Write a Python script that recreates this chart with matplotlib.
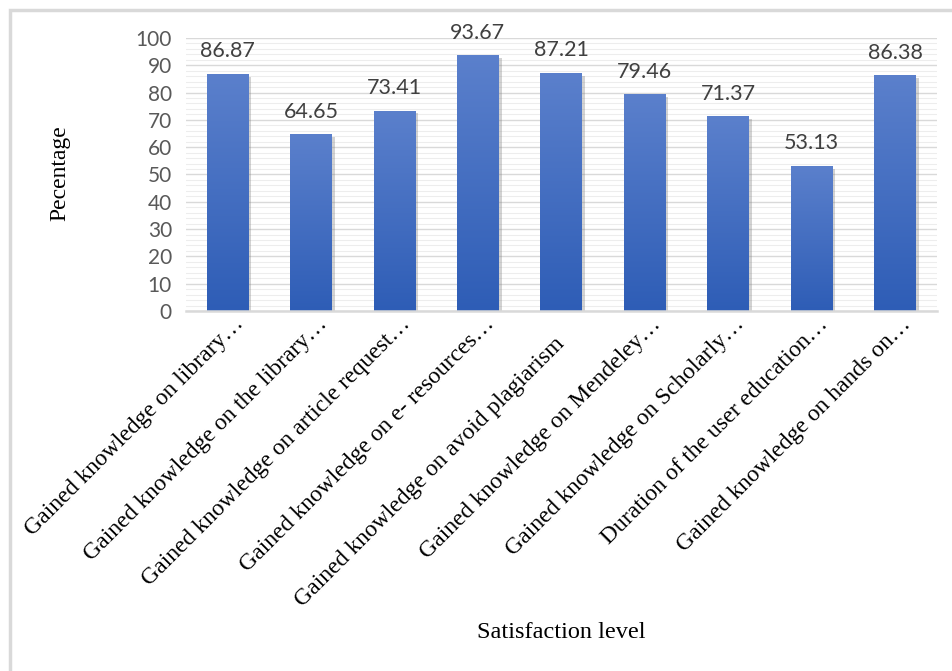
import matplotlib.pyplot as plt
import matplotlib.patheffects as pe
import matplotlib.transforms as mtransforms
from matplotlib.patches import Rectangle
from matplotlib.colors import LinearSegmentedColormap
import numpy as np

categories = [
    'Gained knowledge on library\u2026',
    'Gained knowledge on the library\u2026',
    'Gained knowledge on article request\u2026',
    'Gained knowledge on e- resources\u2026',
    'Gained knowledge on avoid plagiarism',
    'Gained knowledge on Mendeley\u2026',
    'Gained knowledge on Scholarly\u2026',
    'Duration of the user education\u2026',
    'Gained knowledge on hands on\u2026',
]
values = [86.87, 64.65, 73.41, 93.67, 87.21, 79.46, 71.37, 53.13, 86.38]
value_labels = ['86.87', '64.65', '73.41', '93.67', '87.21', '79.46', '71.37', '53.13', '86.38']
y_ticks = [0, 10, 20, 30, 40, 50, 60, 70, 80, 90, 100]

fig = plt.figure(figsize=(9.53, 6.71), dpi=100)
ax = fig.add_axes([0.195, 0.5365, 0.788, 0.407])

# light frame on top and left like the cropped Excel chart area
fig.patches.append(Rectangle((10 / 953, -0.1), 1.2, 1.1 - 10 / 671,
                             transform=fig.transFigure, fill=False,
                             edgecolor='#d9d9d9', linewidth=2.5))

x = np.arange(len(categories))
bars = ax.bar(x, values, width=0.5, color='#3f68c0', zorder=3,
              path_effects=[pe.SimplePatchShadow(offset=(2, -2), shadow_rgbFace='#808080', alpha=0.35),
                            pe.Normal()])

# vertical gradient on each bar: lighter at top, darker at bottom
cmap = LinearSegmentedColormap.from_list('bar', ['#2e5db6', '#5b80cc'])
grad = np.linspace(0, 1, 256).reshape(-1, 1)
for b in bars:
    x0, w, h = b.get_x(), b.get_width(), b.get_height()
    im = ax.imshow(grad, extent=[x0, x0 + w, 0, h], origin='lower', aspect='auto',
                   cmap=cmap, zorder=4)
    im.set_clip_path(b)

for xi, v, lab in zip(x, values, value_labels):
    ax.annotate(lab, (xi, v), xytext=(0, 9), textcoords='offset points',
                ha='center', va='bottom', fontsize=15.5, family='Lato', color='#404040',
                annotation_clip=False)

ax.set_xlim(-0.5, len(categories) - 0.5)
ax.set_ylim(0, 100)
ax.set_yticks(y_ticks)
ax.set_yticks(np.arange(0, 101, 2), minor=True)
ax.grid(axis='y', which='major', color='#d9d9d9', linewidth=1.0, zorder=0)
ax.grid(axis='y', which='minor', color='#ededed', linewidth=0.8, zorder=0)
ax.tick_params(axis='y', which='both', length=0, labelsize=15, labelcolor='#595959', pad=10)
for t in ax.get_yticklabels():
    t.set_family('Lato')

# category labels drawn as rotated texts under each bar
# (truncated labels with an ellipsis overhang a bit further, as in Excel)
ax.set_xticks(x)
ax.set_xticklabels([])
ax.tick_params(axis='x', length=0)
for xi, lab in zip(x, categories):
    if lab.endswith('\u2026'):
        dx, dy = 13, -10
    else:
        dx, dy = 0, -30
    offset = mtransforms.ScaledTranslation(dx / 100, dy / 100, fig.dpi_scale_trans)
    ax.text(xi, 0, lab, transform=ax.get_xaxis_transform() + offset,
            rotation=45, ha='right', va='center', rotation_mode='anchor',
            fontsize=17, family='Liberation Serif', color='black')

for s in ['top', 'right', 'left']:
    ax.spines[s].set_visible(False)
ax.spines['bottom'].set_color('#d9d9d9')
ax.spines['bottom'].set_linewidth(1.8)
ax.spines['bottom'].set_zorder(5)

fig.text(60 / 953, 1 - 173 / 671, 'Pecentage', rotation=90, ha='center', va='center',
         fontsize=17, family='Liberation Serif')
fig.text(561 / 953, 1 - 633 / 671, 'Satisfaction level', ha='center', va='center',
         fontsize=17.5, family='Liberation Serif')

fig.savefig('out.png', dpi=100)
